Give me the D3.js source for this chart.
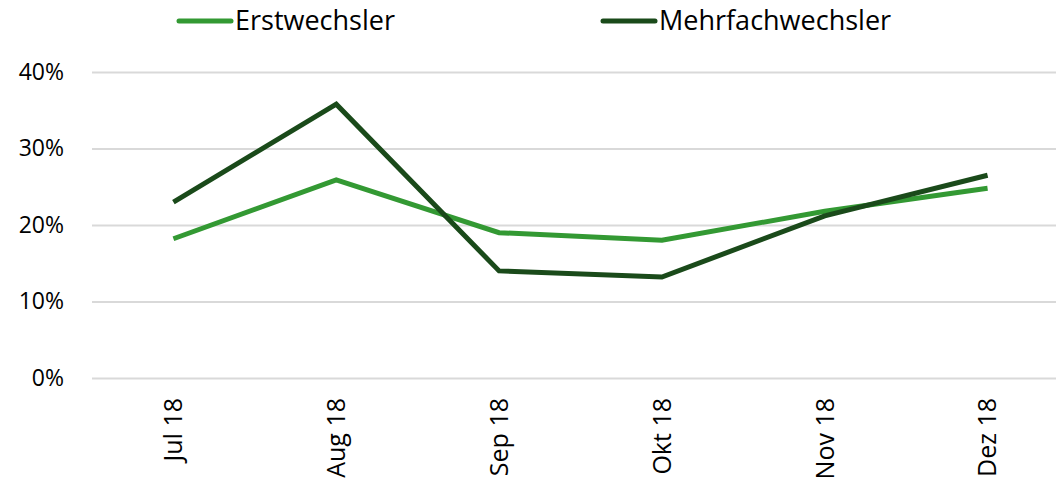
<!DOCTYPE html>
<html>
<head>
<meta charset="utf-8">
<script src="https://cdn.jsdelivr.net/npm/d3@7"></script>
<style>
  body { margin: 0; background: #fff; }
  text { font-family: "Open Sans", "Noto Sans", sans-serif; fill: #000; }
</style>
</head>
<body>
<div id="chart"></div>
<script>
// Données
const months = ["Jul 18", "Aug 18", "Sep 18", "Okt 18", "Nov 18", "Dez 18"];
const erstwechsler = [18.2, 25.9, 19.0, 18.0, 21.8, 24.8];
const mehrfachwechsler = [23.0, 35.8, 14.0, 13.2, 21.2, 26.5];
const yTicks = [0, 10, 20, 30, 40];
const seriesNames = ["Erstwechsler", "Mehrfachwechsler"];
const colors = ["#339933", "#1a4a1a"];

const width = 1056, height = 481;

const svg = d3.select("#chart")
  .append("svg")
  .attr("width", width)
  .attr("height", height);

// Échelles
const x = d3.scaleBand()
  .domain(months)
  .range([92, 1069]);

const y = d3.scaleLinear()
  .domain([0, 40])
  .range([378, 72]);

// Grille + axe Y
const yAxis = svg.append("g")
  .attr("transform", "translate(92,0)")
  .call(d3.axisLeft(y).tickValues(yTicks).tickSize(-(width - 92)).tickFormat(d => d + "%"));
yAxis.select(".domain").remove();
yAxis.selectAll(".tick line").attr("stroke", "#d9d9d9").attr("stroke-width", 2);
yAxis.selectAll(".tick text")
  .attr("x", -28)
  .style("font-size", "23px")
  .attr("fill", "#000");

// Axe X
const xAxis = svg.append("g")
  .attr("transform", "translate(0,378)")
  .call(d3.axisBottom(x).tickSize(0));
xAxis.select(".domain").remove();
xAxis.selectAll(".tick text")
  .style("font-size", "25px")
  .attr("fill", "#000")
  .attr("text-anchor", "end")
  .attr("transform", "rotate(-90)")
  .attr("x", -20)
  .attr("y", 0)
  .attr("dy", "0.35em");

// Lignes
const line = d3.line()
  .x((d, i) => x(months[i]) + x.bandwidth() / 2)
  .y(d => y(d));

[erstwechsler, mehrfachwechsler].forEach((values, i) => {
  svg.append("path")
    .datum(values)
    .attr("fill", "none")
    .attr("stroke", colors[i])
    .attr("stroke-width", 5)
    .attr("stroke-linejoin", "miter")
    .attr("d", line);
});

// Légende
const legendX = [177, 601];
seriesNames.forEach((name, i) => {
  const g = svg.append("g").attr("transform", `translate(${legendX[i]},21)`);
  g.append("line")
    .attr("x1", 2).attr("x2", 54)
    .attr("stroke", colors[i])
    .attr("stroke-width", 5)
    .attr("stroke-linecap", "round");
  g.append("text")
    .attr("x", 58)
    .attr("dy", "0.35em")
    .style("font-size", "27px")
    .text(name);
});
</script>
</body>
</html>
